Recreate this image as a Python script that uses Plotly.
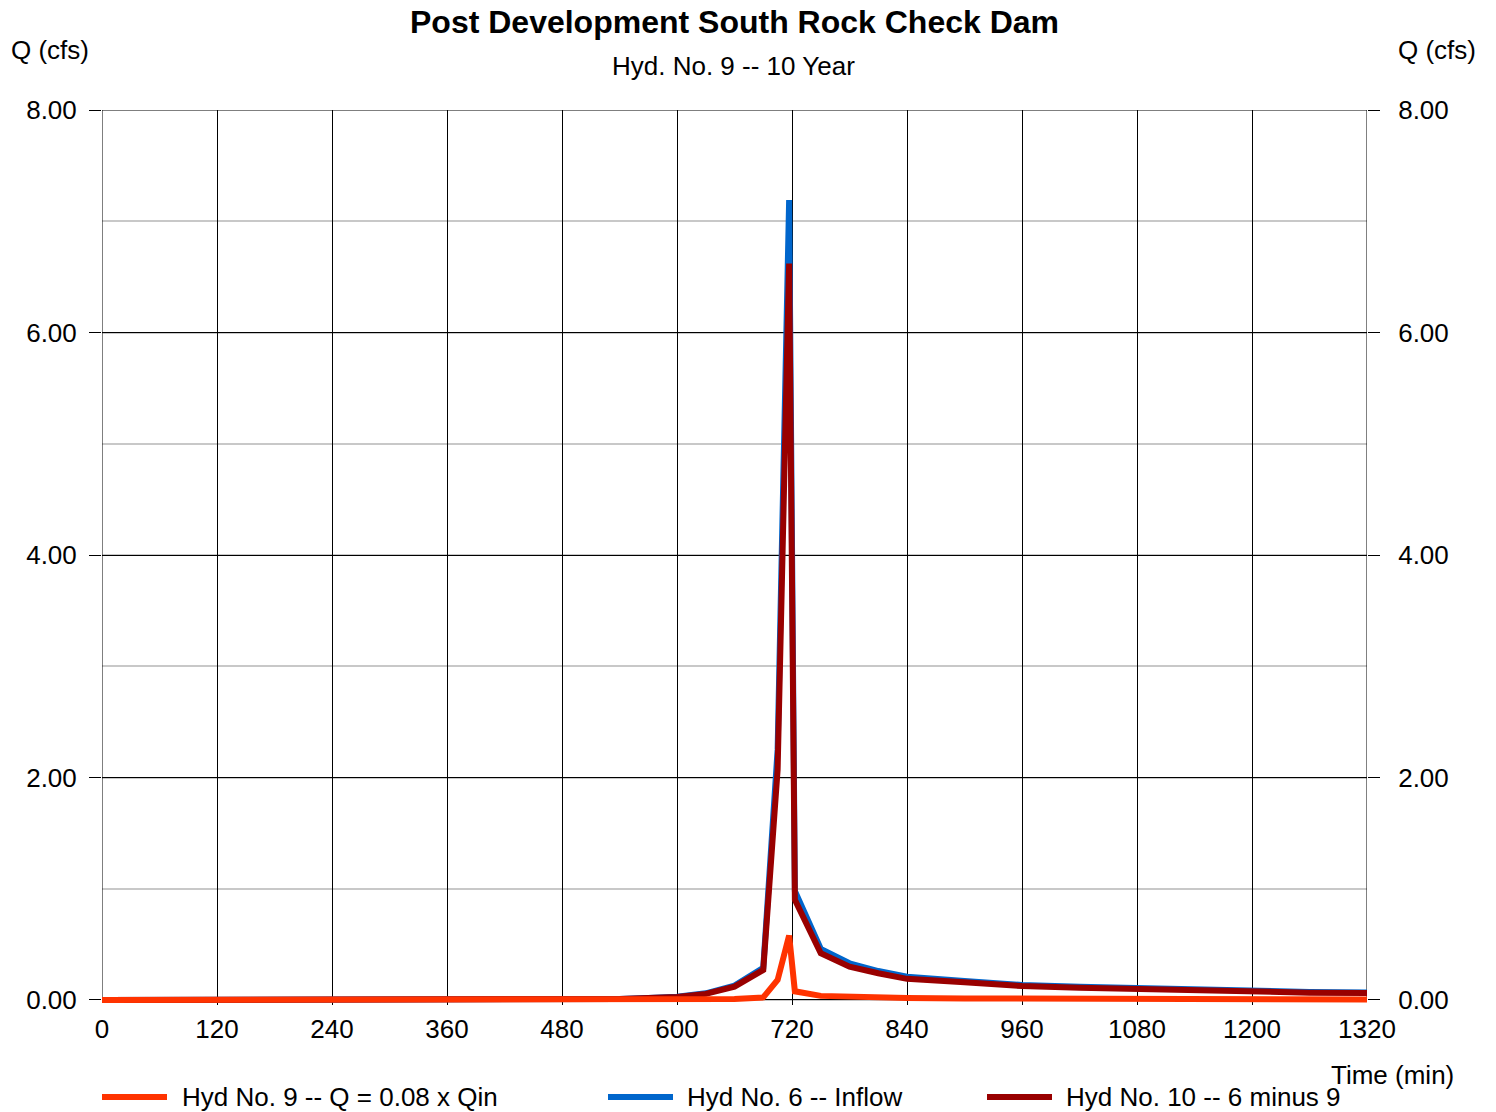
import plotly.graph_objects as go

# Hydrograph ordinates (time in minutes, flow in cfs)
time_min = [0, 420, 480, 540, 570, 600, 630, 660, 690, 705, 717, 723, 750,
            780, 810, 840, 900, 960, 1020, 1080, 1140, 1200, 1260, 1320]
hyd6_inflow = [0.0, 0.0, 0.004, 0.01, 0.018, 0.03, 0.06, 0.13, 0.29, 2.25, 7.19,
               0.98, 0.46, 0.33, 0.26, 0.21, 0.17, 0.135, 0.12, 0.105, 0.09,
               0.078, 0.072, 0.068]
hyd10_6_minus_9 = [0.0, 0.0, 0.004, 0.009, 0.017, 0.028, 0.055, 0.12, 0.27, 2.07,
                   6.62, 0.90, 0.42, 0.30, 0.24, 0.19, 0.16, 0.125, 0.11, 0.097,
                   0.083, 0.072, 0.066, 0.063]
hyd9_diversion = [0.0, 0.0, 0.0, 0.001, 0.001, 0.002, 0.005, 0.01, 0.023, 0.18,
                  0.58, 0.078, 0.037, 0.026, 0.021, 0.017, 0.014, 0.011, 0.01,
                  0.008, 0.007, 0.006, 0.006, 0.005]

series_names = ["Hyd No. 9 -- Q = 0.08 x Qin", "Hyd No. 6 -- Inflow",
                "Hyd No. 10 -- 6 minus 9"]
series_colors = ["#FF3300", "#0066CC", "#990000"]

x_ticks = [0, 120, 240, 360, 480, 600, 720, 840, 960, 1080, 1200, 1320]
y_ticks = [0, 2, 4, 6, 8]
y_tick_text = ["0.00", "2.00", "4.00", "6.00", "8.00"]
X_MAX, Y_MAX = 1320, 8

W, H = 1496, 1112
L, R, T, B = 102, 1367, 110, 1000
Y_LOW = -0.045  # a little room under zero so the baseline strokes are not clipped
B_PLOT = B + (0 - Y_LOW) * (B - T) / Y_MAX
FONT = "Arial, Liberation Sans, sans-serif"
FS = 26


def px(xp):
    return (xp - L) / (R - L)


def py(yp):
    return (B_PLOT - yp) / (B_PLOT - T)


fig = go.Figure()

# plot frame: left/right edges and the top line at the axis maximum
for x0, y0, x1, y1 in [(0, 0, 0, Y_MAX), (X_MAX, 0, X_MAX, Y_MAX),
                       (0, Y_MAX, X_MAX, Y_MAX)]:
    fig.add_shape(type="line", xref="x", yref="y", x0=x0, y0=y0, x1=x1, y1=y1,
                  line=dict(color="black", width=1), layer="between")

# draw order: inflow underneath, then net flow, then diverted flow on top
for yv, idx in [(hyd6_inflow, 1), (hyd10_6_minus_9, 2), (hyd9_diversion, 0)]:
    fig.add_trace(go.Scatter(
        x=time_min, y=yv, mode="lines", name=series_names[idx],
        line=dict(color=series_colors[idx], width=6), showlegend=False,
    ))

# carrier for the right-hand axis
fig.add_trace(go.Scatter(x=time_min, y=hyd6_inflow, yaxis="y2", mode="lines",
                         line=dict(width=0, color="rgba(0,0,0,0)"),
                         showlegend=False, hoverinfo="skip"))

axis_font = dict(family=FONT, size=FS, color="black")
yaxis_common = dict(
    range=[Y_LOW, Y_MAX], tickvals=y_ticks, ticktext=y_tick_text,
    ticks="outside", ticklen=12, tickcolor="black", tickwidth=1,
    tickfont=axis_font, showline=False,
)

fig.update_layout(
    width=W, height=H,
    margin=dict(l=L, r=W - R, t=T, b=H - B_PLOT, pad=0),
    paper_bgcolor="white", plot_bgcolor="white",
    font=dict(family=FONT, color="black"),
    title=dict(text="<b>Post Development South Rock Check Dam</b>",
               x=0.5, xref="paper", xanchor="center",
               y=1 - 22 / H, yref="container", yanchor="middle",
               font=dict(family=FONT, size=32, color="black")),
    xaxis=dict(range=[0, X_MAX], tickvals=x_ticks, ticks="", tickfont=axis_font,
               showgrid=True, gridcolor="black", gridwidth=1,
               showline=False, zeroline=False, ticklabelstandoff=6),
    yaxis=dict(**yaxis_common, side="left", showgrid=True, gridcolor="black",
               gridwidth=1, ticklabelstandoff=7, zeroline=True,
               zerolinecolor="black", zerolinewidth=1,
               minor=dict(dtick=1, tick0=0, showgrid=True,
                          gridcolor="#c8c8c8", gridwidth=2, ticks="")),
    yaxis2=dict(**yaxis_common, side="right", overlaying="y", showgrid=False,
                zeroline=False, ticklabelstandoff=13),
    showlegend=False,
)

annotations = [
    dict(text="Hyd. No. 9 -- 10 Year", x=px(733), y=py(66)),
    dict(text="Q (cfs)", x=px(50), y=py(50)),
    dict(text="Q (cfs)", x=px(1437), y=py(50)),
    dict(text="Time (min)", x=px(1392), y=py(1075)),
]
for a in annotations:
    fig.add_annotation(text=a["text"], x=a["x"], y=a["y"], xref="paper",
                       yref="paper", showarrow=False, xanchor="center",
                       yanchor="middle", font=dict(family=FONT, size=FS,
                                                   color="black"))

# legend row along the bottom
legend_pos = [(102, 167, 180), (608, 673, 685), (987, 1052, 1064)]
for (x0, x1, xt), name, color in zip(legend_pos, series_names, series_colors):
    fig.add_shape(type="line", xref="paper", yref="paper",
                  x0=px(x0), x1=px(x1), y0=py(1097), y1=py(1097),
                  line=dict(color=color, width=6))
    fig.add_annotation(text=name, x=px(xt), y=py(1097), xref="paper",
                       yref="paper", showarrow=False, xanchor="left",
                       yanchor="middle",
                       font=dict(family=FONT, size=FS, color="black"))

fig.write_html("out.html")
